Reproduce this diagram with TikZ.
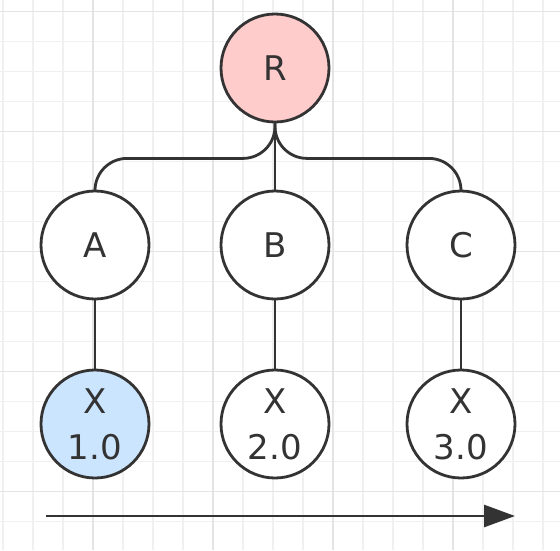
\documentclass[tikz,border=0pt]{standalone}
\usepackage{fontspec}
\setmainfont{DejaVu Sans}
\usetikzlibrary{positioning, calc, arrows.meta}
\tikzset{>=latex}
\definecolor{inkgray}{HTML}{333333}
\definecolor{redfill}{HTML}{FFCCCC}
\definecolor{bluefill}{HTML}{CCE5FF}
\definecolor{gridminor}{HTML}{F0F0F0}
\definecolor{gridmajor}{HTML}{E4E4E4}

\begin{document}
\begin{tikzpicture}
    [
        x=1pt, y=-1pt,
        white_node/.style={circle, draw=inkgray, fill=white, line width=2.8pt, minimum size=108pt, inner sep=0pt, text=inkgray, align=center, font=\fontsize{34}{46}\selectfont},
        red_node/.style={white_node, fill=redfill},
        blue_node/.style={white_node, fill=bluefill},
        edge_line/.style={draw=inkgray, line width=2.8pt},
    ]

  \useasboundingbox (0,0) rectangle (560,550);
  \fill[white] (0,0) rectangle (560,550);
  % background grid
  \foreach \gx in {3,33,...,543} \draw[gridminor, line width=1.2pt] (\gx,0) -- (\gx,550);
  \foreach \gy in {11.7,41.7,...,541.7} \draw[gridminor, line width=1.2pt] (0,\gy) -- (560,\gy);
  \foreach \gx in {93,213,333,453} \draw[gridmajor, line width=1.2pt] (\gx,0) -- (\gx,550);
  \foreach \gy in {11.7,131.7,251.7,371.7,491.7} \draw[gridmajor, line width=1.2pt] (0,\gy) -- (560,\gy);

  \node[red_node] (R) at (275,68) {R};
  \node[white_node] (A) at (95,245) {A};
  \node[white_node] (B) at (275,245) {B};
  \node[white_node] (C) at (461,245) {C};
  \node[blue_node] (X1) at (95,424) {X\\1.0};
  \node[white_node] (X2) at (275,424) {X\\2.0};
  \node[white_node] (X3) at (461,424) {X\\3.0};

  \draw[edge_line, rounded corners=32pt] (R.south) -- ++(0,35) -| (A.north);
  \draw[edge_line] (R.south) -- (B.north);
  \draw[edge_line, rounded corners=32pt] (R.south) -- ++(0,35) -| (C.north);
  \draw[edge_line] (A) -- (X1);
  \draw[edge_line] (B) -- (X2);
  \draw[edge_line] (C) -- (X3);

  \coordinate (start) at (46,516);
  \coordinate (stop) at (515,516);
  \draw[edge_line, -{Triangle[length=31pt, width=22pt]}] (start) -- (stop);
\end{tikzpicture}
\end{document}
